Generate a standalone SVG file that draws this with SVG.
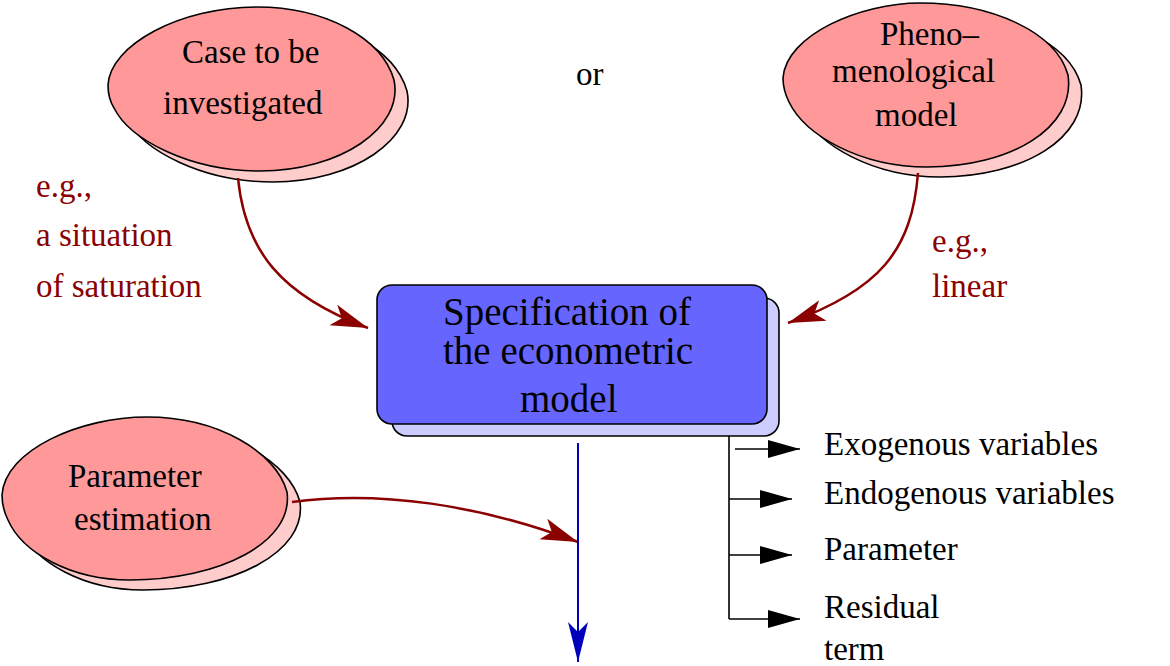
<svg xmlns="http://www.w3.org/2000/svg" width="1170" height="666" viewBox="0 0 1170 666" font-family="'Liberation Serif', 'Times New Roman', serif">
<style>
.front{fill:#ff9999;stroke:#000;stroke-width:1.6}
.shadow{fill:#ffcccc;stroke:#000;stroke-width:1.6}
.bfront{fill:#6666ff;stroke:#000;stroke-width:1.6}
.bshadow{fill:#ccccff;stroke:#000;stroke-width:1.6}
text{font-family:'Liberation Serif','Times New Roman',serif;font-size:33px;fill:#000}
.big{font-size:39px}
.red{fill:#8b0000}
.rline{fill:none;stroke:#8b0000;stroke-width:2.5}
.kline{fill:none;stroke:#000;stroke-width:1.6}
.bline{fill:none;stroke:#0000bb;stroke-width:2}
</style>
<defs>
<marker id="redhead" markerUnits="userSpaceOnUse" markerWidth="40" markerHeight="24" refX="37" refY="11" orient="auto" overflow="visible">
<path d="M0,0 L37,11 L0,22 L9,11 Z" fill="#8b0000"/>
</marker>
<marker id="blackhead" markerUnits="userSpaceOnUse" markerWidth="34" markerHeight="20" refX="32" refY="9" orient="auto" overflow="visible">
<path d="M0,0 L32,9 L0,18 Z" fill="#000"/>
</marker>
<marker id="bluehead" markerUnits="userSpaceOnUse" markerWidth="42" markerHeight="22" refX="40" refY="10" orient="auto" overflow="visible">
<path d="M0,0 L40,10 L0,20 L10,10 Z" fill="#0000bb"/>
</marker>
</defs>

<g id="case">
<path class="shadow" transform="translate(13,11)" d="M108,85 C110,45 180,7 257,7 C325,7 382,38 394,80 C404,128 340,171 260,171 C190,171 130,140 114,108 C109,100 108,92 108,85 Z"/>
<path class="front" d="M108,85 C110,45 180,7 257,7 C325,7 382,38 394,80 C404,128 340,171 260,171 C190,171 130,140 114,108 C109,100 108,92 108,85 Z"/>
<text x="182" y="63">Case to be</text>
<text x="163" y="114">investigated</text>
</g>

<g id="pheno">
<path class="shadow" transform="translate(13,10)" d="M783,78 C786,35 860,3 920,3 C992,3 1056,32 1068,75 C1076,128 1010,167 927,167 C860,167 805,135 789,102 C785,94 783,86 783,78 Z"/>
<path class="front" d="M783,78 C786,35 860,3 920,3 C992,3 1056,32 1068,75 C1076,128 1010,167 927,167 C860,167 805,135 789,102 C785,94 783,86 783,78 Z"/>
<text x="880" y="45">Pheno–</text>
<text x="832" y="82">menological</text>
<text x="875" y="126">model</text>
</g>

<g id="param">
<path class="shadow" transform="translate(13,10)" d="M2,495 C5,450 80,417 147,417 C218,417 276,452 287,492 C294,542 220,580 130,580 C70,580 22,552 8,520 C4,512 2,503 2,495 Z"/>
<path class="front" d="M2,495 C5,450 80,417 147,417 C218,417 276,452 287,492 C294,542 220,580 130,580 C70,580 22,552 8,520 C4,512 2,503 2,495 Z"/>
<text x="68" y="487">Parameter</text>
<text x="74" y="530">estimation</text>
</g>

<g id="spec">
<rect class="bshadow" x="392" y="298" width="387" height="138" rx="15"/>
<rect class="bfront" x="377" y="285" width="390" height="139" rx="15"/>
<text class="big" x="443" y="325">Specification of</text>
<text class="big" x="443" y="364">the econometric</text>
<text class="big" x="520" y="412">model</text>
</g>

<g id="labels">
<text x="576" y="85">or</text>
<text class="red" x="36" y="197">e.g.,</text>
<text class="red" x="36" y="246">a situation</text>
<text class="red" x="36" y="297">of saturation</text>
<text class="red" x="932" y="252">e.g.,</text>
<text class="red" x="932" y="297">linear</text>
</g>

<g id="outputs">
<text x="824" y="455">Exogenous variables</text>
<text x="824" y="504">Endogenous variables</text>
<text x="824" y="560">Parameter</text>
<text x="824" y="618">Residual</text>
<text x="824" y="660">term</text>
</g>

<g id="connectors">
<path class="rline" d="M238,178 C245,250 280,295 368,328" marker-end="url(#redhead)"/>
<path class="rline" d="M918,173 C912,250 880,290 788,323" marker-end="url(#redhead)"/>
<path class="rline" d="M292,502 C380,490 480,505 578,542" marker-end="url(#redhead)"/>
<path class="bline" d="M578,443 L578,662" marker-end="url(#bluehead)"/>
<path class="kline" d="M729,436 L729,619"/>
<path class="kline" d="M735,449 L800,449" marker-end="url(#blackhead)"/>
<path class="kline" d="M729,499 L792,499" marker-end="url(#blackhead)"/>
<path class="kline" d="M729,555 L792,555" marker-end="url(#blackhead)"/>
<path class="kline" d="M729,619 L800,619" marker-end="url(#blackhead)"/>
</g>
</svg>
